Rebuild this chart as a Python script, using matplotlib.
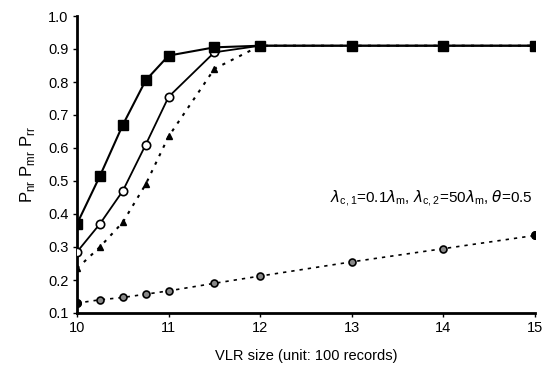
import matplotlib
matplotlib.use("Agg")
import matplotlib.pyplot as plt

plt.rcParams['font.family'] = ['Liberation Sans', 'DejaVu Sans']

x_sq = [10, 10.25, 10.5, 10.75, 11, 11.5, 12, 13, 14, 15]
p_sq = [0.37, 0.515, 0.67, 0.805, 0.88, 0.905, 0.91, 0.91, 0.91, 0.91]

x_oc = [10, 10.25, 10.5, 10.75, 11, 11.5, 12, 13, 14, 15]
p_oc = [0.285, 0.37, 0.47, 0.61, 0.755, 0.89, 0.91, 0.91, 0.91, 0.91]

x_tr = [10, 10.25, 10.5, 10.75, 11, 11.5, 12, 13, 14, 15]
p_tr = [0.235, 0.30, 0.375, 0.49, 0.635, 0.84, 0.91, 0.91, 0.91, 0.91]

x_sc = [10, 10.25, 10.5, 10.75, 11, 11.5, 12, 13, 14, 15]
p_sc = [0.13, 0.14, 0.147, 0.157, 0.167, 0.19, 0.212, 0.255, 0.295, 0.335]

xticks = [10, 11, 12, 13, 14, 15]
yticks = [0.1, 0.2, 0.3, 0.4, 0.5, 0.6, 0.7, 0.8, 0.9, 1.0]

fig = plt.figure(figsize=(5.44, 3.66), dpi=100)
ax = fig.add_axes([77/544, 1 - 313/366, (535-77)/544, (313-16)/366])

ax.plot(x_sc, p_sc, linestyle=(0, (2, 3)), color='black', lw=1.2,
        marker='o', ms=5, mfc='#888888', mec='black', mew=1.2, zorder=2)
ax.plot([x_sc[0], x_sc[-1]], [p_sc[0], p_sc[-1]], linestyle='none', marker='o',
        ms=5.5, mfc='black', mec='black', zorder=3)
ax.plot(x_tr, p_tr, linestyle=(0, (1.5, 3)), color='black', lw=1.5,
        marker='^', ms=5, mfc='black', mec='black', zorder=3)
ax.plot(x_oc, p_oc, linestyle='-', color='black', lw=1.3,
        marker='o', ms=6, mfc='white', mec='black', mew=1.2, zorder=4)
ax.plot(x_sq, p_sq, linestyle='-', color='black', lw=1.5,
        marker='s', ms=7, mfc='black', mec='black', zorder=5)

ax.set_xlim(10, 15)
ax.set_ylim(0.1, 1.0)
ax.set_xticks(xticks)
ax.set_yticks(yticks)
ax.set_yticklabels([f"{v:.1f}" for v in yticks])
ax.tick_params(direction='out', length=3, width=1, labelsize=10.5, pad=3)
for s in ['top', 'right']:
    ax.spines[s].set_visible(False)
for s in ['left', 'bottom']:
    ax.spines[s].set_linewidth(2)

ax.set_xlabel("VLR size (unit: 100 records)", fontsize=10.5, labelpad=10)
ax.set_ylabel(r"P$_{\mathregular{nr}}$ P$_{\mathregular{mr}}$ P$_{\mathregular{rr}}$", fontsize=12, labelpad=8)

ax.text(14.98, 0.445,
        r"$\lambda_{\mathregular{c,1}}$=0.1$\lambda_{\mathregular{m}}$, $\lambda_{\mathregular{c,2}}$=50$\lambda_{\mathregular{m}}$, $\theta$=0.5",
        ha='right', va='center', fontsize=11)

fig.savefig("out.png", dpi=100)
